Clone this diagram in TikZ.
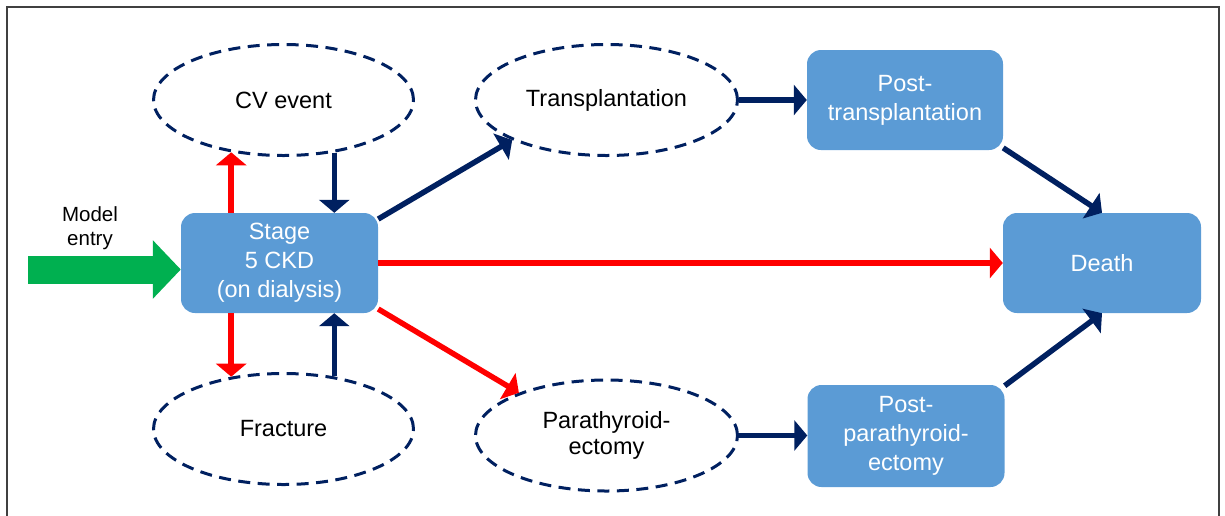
\documentclass[tikz,border=0pt]{standalone}
\usepackage{fontspec}
\setmainfont{Liberation Sans}
\usetikzlibrary{arrows.meta,shapes.geometric}
\definecolor{navyc}{HTML}{002060}
\definecolor{redc}{HTML}{FF0000}
\definecolor{greenc}{HTML}{00B050}
\definecolor{boxc}{HTML}{5B9BD5}
\begin{document}
\begin{tikzpicture}[x=1pt,y=-1pt,
  statebox/.style={rectangle, rounded corners=14pt, fill=boxc, text=white, align=center,
    minimum width=197pt, minimum height=100pt, inner sep=0pt, font=\fontsize{23.5}{29}\selectfont},
  eventell/.style={ellipse, draw=navyc, line width=3pt, dash pattern=on 12pt off 7.5pt,
    minimum width=260pt, minimum height=111pt, inner sep=0pt, align=center,
    font=\fontsize{23.5}{26}\selectfont},
  navyarr/.style={draw=navyc, line width=5.5pt, -{Triangle[length=13pt,width=30pt]}},
  redarr/.style={draw=redc, line width=5.5pt, -{Triangle[length=13pt,width=30pt]}},
  entryarr/.style={draw=greenc, line width=28pt, -{Triangle[length=28pt,width=57pt]}},
  frame/.style={draw=black!75, line width=2pt},
  plain/.style={align=center, inner sep=0pt, font=\fontsize{20.5}{24}\selectfont}
]
\useasboundingbox (0,0) rectangle (1225,515);
\draw[frame] (6.5,530) -- (6.5,6.5) -- (1218.5,6.5) -- (1218.5,530);

% nodes
\node[statebox] (stage) at (279.5,263) {Stage\\5 CKD\\(on dialysis)};
\node[statebox, minimum width=196pt] (ptx) at (905,100) {Post-\\transplantation};
\node[statebox, minimum width=198pt] (death) at (1102,263) {Death};
\node[statebox, minimum height=102pt] (ppx) at (906,436) {Post-\\parathyroid-\\ectomy};

\node[eventell] (cv) at (283.5,100) {CV event};
\node[eventell] (fr) at (283.5,429) {Fracture};
\node[eventell, minimum width=262pt] (tr) at (606.5,100) {Transplantation};
\node[eventell, minimum width=262pt, font=\fontsize{23.5}{25.5}\selectfont] (pt) at (606.5,435.5) {Parathyroid-\\ectomy};

\node[plain] (me) at (90,228) {Model\\entry};
\coordinate (entry) at (28,269.5);

% connectors
\draw[entryarr] (entry) -- (entry -| stage.west);

\draw[redarr] (stage.north -| cv.225) -- (cv.225);
\draw[navyarr] (cv.314) -- (cv.314 |- stage.north);
\draw[redarr] (stage.south -| fr.135) -- (fr.135);
\draw[navyarr] (fr.46) -- (fr.46 |- stage.south);

\draw[navyarr] (stage.24) -- (tr.203);
\draw[redarr] (stage.-25) -- (pt.154);
\draw[redarr] (stage.east) -- (death.west);

\draw[navyarr] (tr.east) -- (tr.east -| ptx.west);
\draw[navyarr] (pt.east) -- (pt.east -| ppx.west);

\draw[navyarr] (ptx.-26) -- (death.north);
\draw[navyarr] (ppx.27) -- (death.south);
\end{tikzpicture}
\end{document}
